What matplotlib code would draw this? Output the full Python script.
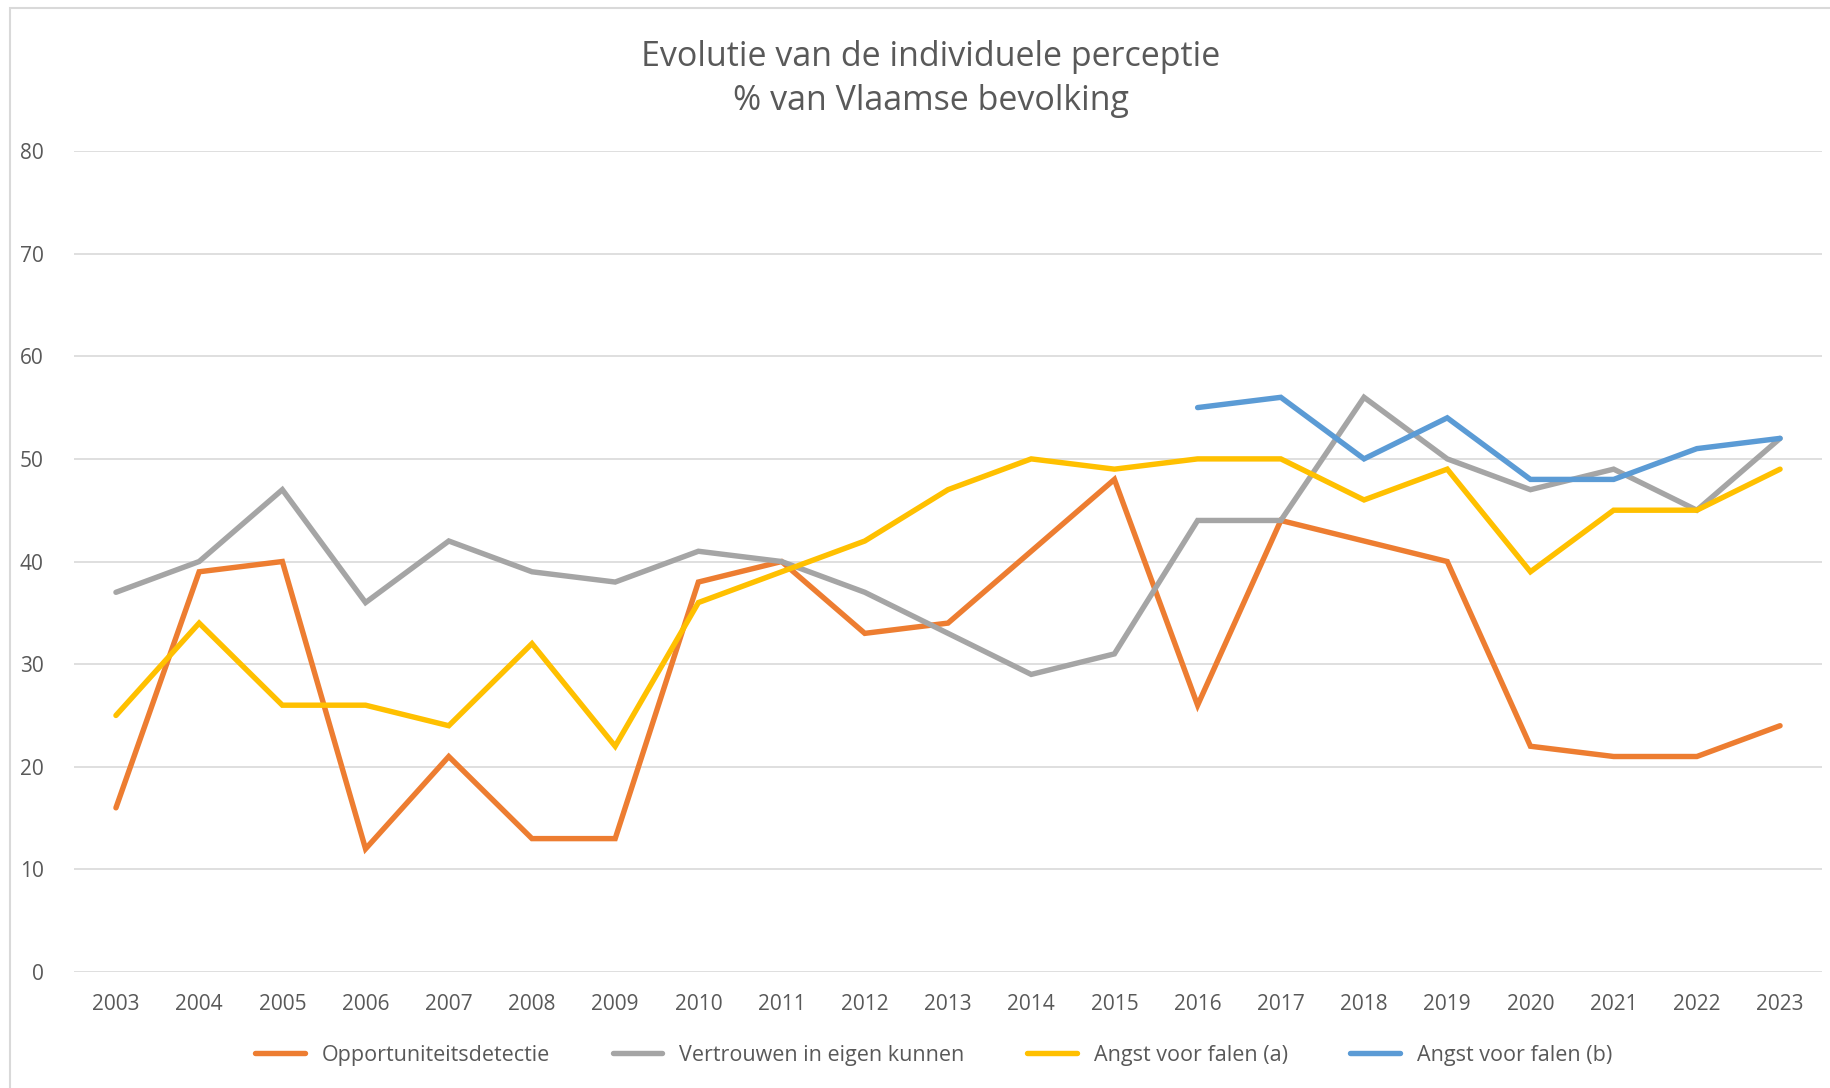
import numpy as np
import matplotlib
matplotlib.use("Agg")
import matplotlib.pyplot as plt
from matplotlib.patches import Rectangle

plt.rcParams['font.family'] = ['Open Sans', 'DejaVu Sans']

years = [str(y) for y in range(2003, 2024)]

opportuniteit = [16, 39, 40, 12, 21, 13, 13, 38, 40, 33, 34, 41, 48, 26, 44, 42, 40, 22, 21, 21, 24]
vertrouwen = [37, 40, 47, 36, 42, 39, 38, 41, 40, 37, 33, 29, 31, 44, 44, 56, 50, 47, 49, 45, 52]
angst_a = [25, 34, 26, 26, 24, 32, 22, 36, 39, 42, 47, 50, 49, 50, 50, 46, 49, 39, 45, 45, 49]
angst_b_years = years[13:]
angst_b = [55, 56, 50, 54, 48, 48, 51, 52]

labels = ['Opportuniteitsdetectie', 'Vertrouwen in eigen kunnen',
          'Angst voor falen (a)', 'Angst voor falen (b)']
colors = ['#ED7D31', '#A5A5A5', '#FFC000', '#5B9BD5']

txt = '#595959'
grid = '#D9D9D9'

fig = plt.figure(figsize=(18.31, 10.88), dpi=100)
ax = fig.add_axes([0.0406, 0.1066, 0.9543, 0.7546])

# chart frame
fig.patches.append(Rectangle((10 / 1831, -0.1), 1.2, 1.1 - 8 / 1088,
                             transform=fig.transFigure, fill=False,
                             edgecolor=grid, lw=1.5, zorder=0))

x = np.arange(len(years))
xb = np.arange(len(years) - len(angst_b), len(years))
series = [(x, opportuniteit), (x, vertrouwen), (x, angst_a), (xb, angst_b)]
for (xs, ys), lab, c in zip(series, labels, colors):
    ax.plot(xs, ys, color=c, lw=3.9, label=lab,
            solid_capstyle='round', solid_joinstyle='miter', zorder=3)

ax.set_xlim(-0.5, len(years) - 0.5)
ax.set_ylim(0, 80)
ax.set_yticks(range(0, 81, 10))
ax.set_xticks(x)
ax.set_xticklabels(years)
ax.tick_params(axis='both', length=0, labelsize=15, labelcolor=txt)
ax.tick_params(axis='x', pad=16)
ax.tick_params(axis='y', pad=22)
ax.grid(axis='y', color=grid, lw=1.2)
ax.set_axisbelow(True)
for s in ax.spines.values():
    s.set_visible(False)

fig.text(0.5085, 0.963, 'Evolutie van de individuele perceptie\n% van Vlaamse bevolking',
         ha='center', va='top', fontsize=24.5, color=txt, linespacing=1.36)

fig.legend(loc='center', bbox_to_anchor=(0.510, 0.030), ncol=4, frameon=False,
           fontsize=15.5, labelcolor=txt, handlelength=2.3, handletextpad=0.8,
           columnspacing=2.9)

fig.savefig('out.png', dpi=100)
